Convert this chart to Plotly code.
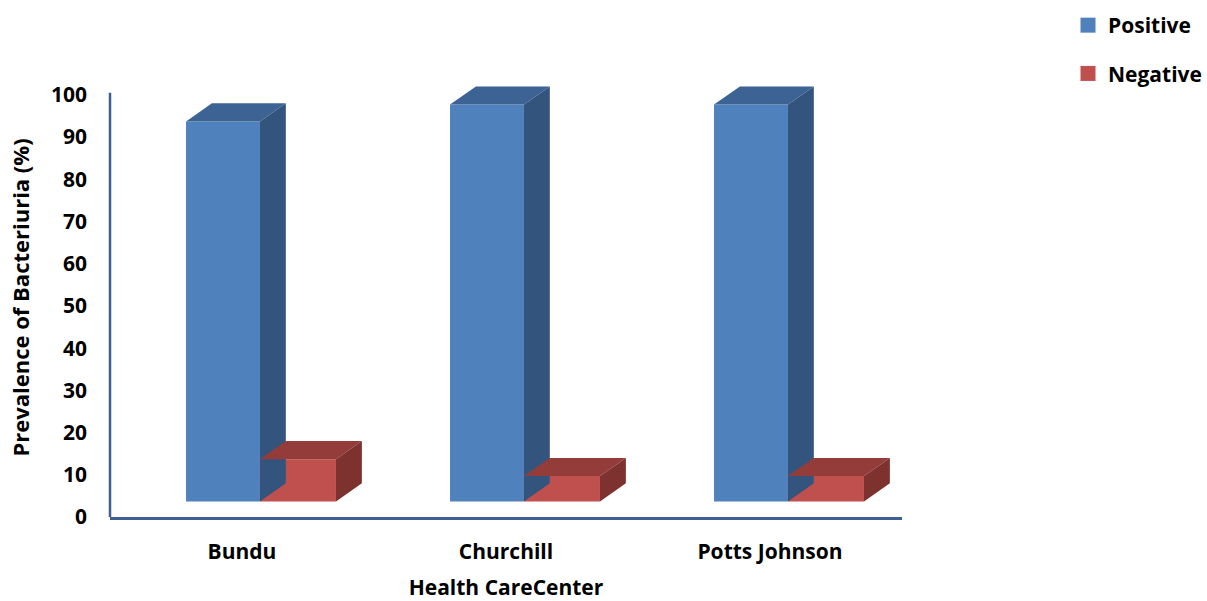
import plotly.graph_objects as go

# Prevalence of bacteriuria by health care center (%)
centers = ["Bundu", "Churchill", "Potts Johnson"]
positive = [90, 94, 94]
negative = [10, 6, 6]
y_ticks = [0, 10, 20, 30, 40, 50, 60, 70, 80, 90, 100]

pos = list(range(len(centers)))

# pseudo-3D column geometry (axis units)
FLOOR = 3.7          # bars stand slightly behind the front edge of the floor
DX, DY = 0.098, 4.3  # depth offset of the back edges
Y_TOP = 100.5        # where the value axis line ends

series = [
    ("Positive", positive, -0.212, 0.28, ("#4F81BD", "#3D6394", "#33557D")),
    ("Negative", negative, 0.068, 0.288, ("#C0504D", "#943C3A", "#7D3230")),
]

FONT = "Open Sans"
fig = go.Figure()

for name, vals, off, w, (front, top, side) in series:
    xs = [p + off for p in pos]
    fig.add_trace(go.Bar(
        x=pos, y=vals, base=[FLOOR] * len(vals), offset=off, width=w,
        marker=dict(color=front, line=dict(width=0)),
        name=name, showlegend=False, hoverinfo="skip",
    ))
    for x0, v in zip(xs, vals):
        x1 = x0 + w
        ytop = FLOOR + v
        # top face
        fig.add_trace(go.Scatter(
            x=[x0, x1, x1 + DX, x0 + DX, x0],
            y=[ytop, ytop, ytop + DY, ytop + DY, ytop],
            fill="toself", fillcolor=top, mode="lines",
            line=dict(width=0, color=top), showlegend=False, hoverinfo="skip",
        ))
        # right side face
        fig.add_trace(go.Scatter(
            x=[x1, x1 + DX, x1 + DX, x1, x1],
            y=[FLOOR, FLOOR + DY, ytop + DY, ytop, FLOOR],
            fill="toself", fillcolor=side, mode="lines",
            line=dict(width=0, color=side), showlegend=False, hoverinfo="skip",
        ))

# legend entries
for name, vals, off, w, (front, top, side) in series:
    fig.add_trace(go.Scatter(
        x=[None], y=[None], mode="markers", name=name, legendgroup=name,
        marker=dict(symbol="square", size=15, color=front),
    ))

axis_line = "#3F5F93"

# value axis line, stopping at the top of the scale
fig.add_shape(type="line", xref="paper", yref="y", x0=0, x1=0, y0=0, y1=Y_TOP,
              line=dict(color=axis_line, width=2.5), layer="above")

fig.update_layout(
    width=1207, height=601,
    margin=dict(l=110, r=305, t=78, b=84, autoexpand=False),
    paper_bgcolor="white", plot_bgcolor="white",
    barmode="overlay",
    font=dict(family=FONT, size=21, color="black", weight=700),
    legend=dict(
        x=1.2096, y=1.1663, xanchor="left", yanchor="top",
        font=dict(family=FONT, size=21, color="black", weight=700),
        tracegroupgap=18, bgcolor="rgba(0,0,0,0)",
    ),
    xaxis=dict(
        range=[-0.5, 2.5], tickvals=pos, ticktext=centers,
        showline=True, linecolor=axis_line, linewidth=2.5,
        showgrid=False, zeroline=False, ticks="", ticklabelstandoff=14,
        tickfont=dict(family=FONT, size=21, weight=700),
        title=dict(text="Health CareCenter", standoff=28,
                   font=dict(family=FONT, size=21, weight=700)),
    ),
    yaxis=dict(
        range=[0, 104], tickvals=y_ticks,
        showline=False, showgrid=False, zeroline=False,
        ticks="", ticklabelstandoff=22,
        tickfont=dict(family=FONT, size=21, weight=700),
        title=dict(text="Prevalence of Bacteriuria (%)", standoff=15,
                   font=dict(family=FONT, size=22, weight=700)),
    ),
)

fig.write_html("out.html")
